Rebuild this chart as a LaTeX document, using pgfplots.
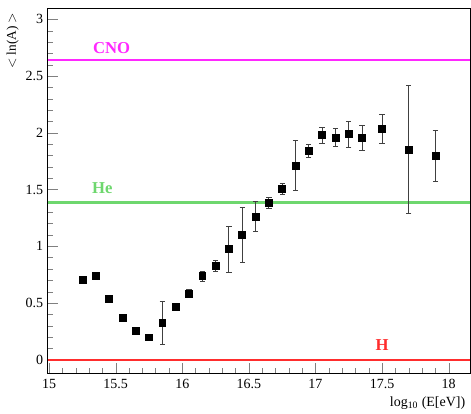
\documentclass[border=0pt]{standalone}
\usepackage{pgfplots}
\pgfplotsset{compat=1.18}
\usepackage{pgfplotstable}
\usepackage{fontspec}
\setmainfont{Liberation Serif}

\definecolor{cnoc}{RGB}{255,40,255}
\definecolor{hec}{RGB}{110,215,110}
\definecolor{hc}{RGB}{255,45,45}

% x  lnA  err
\pgfplotstableread{
x     y      ey
15.25 0.701  0.010
15.35 0.740  0.010
15.45 0.540  0.010
15.55 0.369  0.010
15.65 0.257  0.010
15.75 0.198  0.010
15.85 0.325  0.190
15.95 0.466  0.010
16.05 0.584  0.035
16.15 0.736  0.045
16.25 0.824  0.048
16.35 0.974  0.200
16.45 1.100  0.245
16.55 1.263  0.130
16.65 1.380  0.050
16.75 1.503  0.050
16.85 1.709  0.220
16.95 1.839  0.060
17.05 1.980  0.070
17.15 1.959  0.080
17.25 1.989  0.115
17.35 1.959  0.110
17.50 2.035  0.130
17.70 1.854  0.560
17.90 1.795  0.225
}\lnA

\begin{document}
\begin{tikzpicture}
\begin{axis}[
    scale only axis,
    width=316.7pt,
    height=274pt,
    xmin=14.99, xmax=18.16,
    ymin=-0.12, ymax=3.1,
    xtick={15,15.5,...,18},
    ytick={0,0.5,...,3},
    minor x tick num=4,
    minor y tick num=4,
    xtick pos=bottom,
    ytick pos=left,
    tick align=inside,
    major tick length=8pt,
    minor tick length=4.3pt,
    tick label style={font=\fontsize{10.5}{12}\selectfont},
    /pgf/number format/assume math mode=true,
    xticklabel style={yshift=-1pt},
    ylabel={$<$ ln(A) $>$},
    ylabel style={at={(axis description cs:-0.083,1)}, anchor=east, font=\fontsize{10}{12}\selectfont},
    xlabel={log\textsubscript{10} (E[eV])},
    xlabel style={at={(axis description cs:1,-0.05)}, anchor=north east, font=\fontsize{10.5}{12}\selectfont},
    clip=true,
]

\addplot[cnoc, line width=1.6pt] coordinates {(14.99,2.64) (18.16,2.64)};
\addplot[hec, line width=1.6pt] coordinates {(14.99,1.386) (18.16,1.386)};
\addplot[hc, line width=1.6pt] coordinates {(14.99,0) (18.16,0)};

\addplot[
    only marks,
    mark=square*,
    mark size=2.6pt,
    black,
    error bars/.cd,
        y dir=both,
        y explicit,
        error bar style={line width=0.6pt, black!75},
        error mark options={rotate=90, mark size=2pt, line width=0.6pt, black!75},
] table[x=x, y=y, y error=ey] {\lnA};

\node[text=cnoc, font=\bfseries\fontsize{12.5}{14}\selectfont] at (axis cs:15.47,2.75) {CNO};
\node[text=hec, font=\bfseries\fontsize{12.5}{14}\selectfont] at (axis cs:15.40,1.51) {He};
\node[text=hc, font=\bfseries\fontsize{12.5}{14}\selectfont] at (axis cs:17.50,0.13) {H};

\end{axis}
\path (current axis.south west) ++(-35.8pt,-29pt);
\path (current axis.north east) ++(0.75pt,6pt);
\end{tikzpicture}
\end{document}
